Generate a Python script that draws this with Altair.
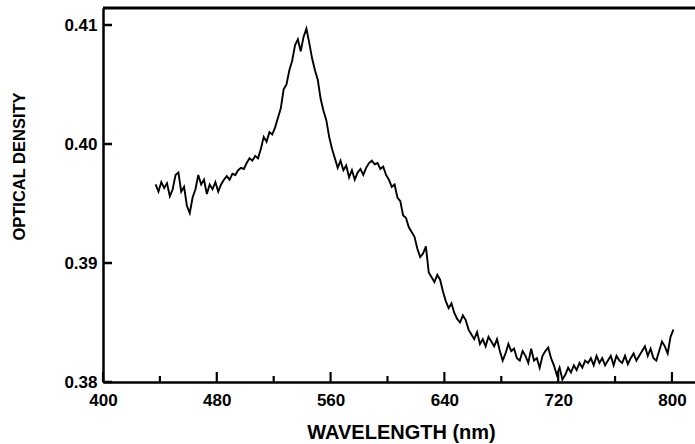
import altair as alt
import pandas as pd

# Data
wavelength = list(range(437, 802, 2))
optical_density = [
    .3966, .3960, .3968, .3963, .3967, .3956, .3962, .3974, .3976, .3960,
    .3964, .3948, .3942, .3955, .3962, .3974, .3966, .3970, .3958, .3966,
    .3962, .3968, .3960, .3966, .3970, .3973, .3970, .3975, .3974, .3978,
    .3980, .3979, .3984, .3988, .3986, .3990, .3988, .3996, .4006, .4002,
    .4010, .4008, .4014, .4022, .4030, .4046, .4050, .4062, .4070, .4083,
    .4088, .4078, .4090, .4097, .4085, .4072, .4062, .4054, .4038, .4028,
    .4020, .4006, .3996, .3988, .3980, .3986, .3978, .3982, .3972, .3978,
    .3970, .3976, .3979, .3974, .3980, .3984, .3986, .3983, .3984, .3979,
    .3981, .3974, .3970, .3964, .3966, .3955, .3952, .3940, .3938, .3930,
    .3926, .3922, .3912, .3905, .3908, .3914, .3892, .3888, .3884, .3890,
    .3886, .3876, .3868, .3862, .3866, .3858, .3853, .3850, .3856, .3852,
    .3844, .3840, .3836, .3842, .3832, .3836, .3830, .3838, .3834, .3830,
    .3836, .3826, .3818, .3824, .3832, .3826, .3828, .3820, .3818, .3826,
    .3822, .3816, .3828, .3818, .3820, .3812, .3822, .3826, .3829, .3820,
    .3814, .3806, .3812, .3802, .3806, .3812, .3808, .3814, .3810, .3816,
    .3812, .3818, .3816, .3820, .3814, .3822, .3816, .3820, .3814, .3818,
    .3822, .3814, .3822, .3818, .3816, .3822, .3815, .3820, .3824, .3818,
    .3822, .3826, .3830, .3822, .3828, .3820, .3818, .3826, .3834, .3830,
    .3824, .3838, .3844,
]
y_ticks = [0.38, 0.39, 0.40, 0.41]
x_major = [400, 480, 560, 640, 720, 800]
x_minor = [440, 520, 600, 680, 760]
y_top = [0.41143]

W, H = 592, 374
FONT = "Liberation Sans"

xs = alt.Scale(domain=[400, 816.2], nice=False, zero=False)
ys = alt.Scale(domain=[0.38, 0.41143], nice=False, zero=False)

xaxis = alt.Axis(
    values=x_major, ticks=False, grid=False,
    domainColor="black", domainWidth=2.5,
    labelFont=FONT, labelFontSize=17, labelFontWeight="bold",
    labelColor="black", labelPadding=10, labelFlush=False,
    title="WAVELENGTH (nm)", titleFont=FONT, titleFontSize=20,
    titleFontWeight="bold", titleColor="black",
    titleX=298, titleY=56, titleBaseline="alphabetic",
    titleAlign="center",
)
yaxis = alt.Axis(
    values=y_ticks, format=".2f", ticks=False, grid=False,
    domainColor="black", domainWidth=2.5,
    labelFont=FONT, labelFontSize=17, labelFontWeight="bold",
    labelColor="black", labelPadding=6, labelFlush=False,
    title="OPTICAL DENSITY", titleFont=FONT, titleFontSize=16.5,
    titleFontWeight="bold", titleColor="black",
    titleX=-84, titleY=158, titleAngle=270,
    titleAlign="center", titleBaseline="middle",
)

df = pd.DataFrame({"wl": wavelength, "od": optical_density})

line = alt.Chart(df).mark_line(color="black", strokeWidth=1.9).encode(
    x=alt.X("wl:Q", scale=xs, axis=xaxis),
    y=alt.Y("od:Q", scale=ys, axis=yaxis),
)

# inward-pointing tick marks and the top edge of the frame
yt = alt.Chart(pd.DataFrame({"od": y_ticks})).mark_rule(
    color="black", strokeWidth=2.5
).encode(y=alt.Y("od:Q", scale=ys), x=alt.value(0), x2=alt.value(9))

xt_major = alt.Chart(pd.DataFrame({"wl": x_major})).mark_rule(
    color="black", strokeWidth=2.2
).encode(x=alt.X("wl:Q", scale=xs), y=alt.value(H), y2=alt.value(H - 10))

xt_minor = alt.Chart(pd.DataFrame({"wl": x_minor})).mark_rule(
    color="black", strokeWidth=2.2
).encode(x=alt.X("wl:Q", scale=xs), y=alt.value(H), y2=alt.value(H - 6))

top = alt.Chart(pd.DataFrame({"od": y_top})).mark_rule(
    color="black", strokeWidth=3
).encode(y=alt.Y("od:Q", scale=ys), x=alt.value(0), x2=alt.value(W))

chart = alt.layer(line, yt, xt_major, xt_minor, top).properties(
    width=W, height=H,
    autosize=alt.AutoSizeParams(type="none"),
    padding={"left": 103, "top": 8, "right": 0, "bottom": 62},
    background="white",
).configure_view(stroke=None)

chart.save("out.html", embed_options={"renderer": "svg", "actions": False})
